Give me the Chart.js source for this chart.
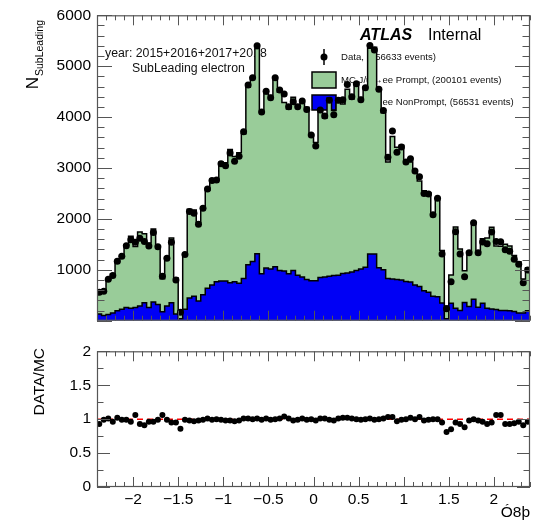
<!DOCTYPE html>
<html>
<head>
<meta charset="utf-8">
<script src="https://cdn.jsdelivr.net/npm/chart.js@4.4.1/dist/chart.umd.min.js"></script>
<style>
  html, body { margin: 0; padding: 0; background: #fff; }
  #wrap { position: relative; width: 546px; height: 521px; }
  #mainChart { position: absolute; left: 0; top: 0; }
  #ratioChart { position: absolute; left: 0; top: 336px; }
</style>
</head>
<body>
<div id="wrap">
  <canvas id="mainChart" width="546" height="336"></canvas>
  <canvas id="ratioChart" width="546" height="185"></canvas>
</div>
<script>
// binning: 96 bins of 0.05 in eta
const xMin = -2.4;
const xMax = 2.4;
const binWidth = 0.05;

// data counts per bin
const dataCounts = [
  559, 578, 812, 887, 1166, 1267, 1473, 1592, 1543, 1619,
  1556, 1467, 1732, 1454, 874, 1227, 1543, 799, 168, 1303,
  2147, 2110, 1896, 2211, 2589, 2753, 2766, 3082, 3043, 3295,
  3131, 3232, 3711, 4632, 4771, 5402, 4102, 4506, 4380, 4771,
  4531, 4456, 4203, 4304, 4203, 4317, 4150, 3650, 3430, 4140,
  4020, 4330, 4045, 4330, 4340, 4640, 4400, 4657, 4340, 4575,
  5408, 5316, 4545, 4128, 3210, 3725, 3307, 3414, 3118, 3181,
  2941, 2828, 2500, 2490, 2080, 2405, 1310, 235, 765, 1750,
  1310, 865, 1333, 1925, 1333, 1545, 1510, 1745, 1558, 1550,
  1395, 1363, 1205, 1110, 745, 997
];

// MC prompt + nonprompt (top of the green stack)
const mcTotal = [
  601, 584, 804, 924, 1143, 1280, 1488, 1658, 1456, 1741,
  1710, 1528, 1804, 1469, 825, 1239, 1624, 841, 195, 1316,
  2191, 2175, 1935, 2233, 2563, 2781, 2766, 3113, 3105, 3362,
  3228, 3298, 3674, 4586, 4771, 5349, 4143, 4461, 4424, 4771,
  4486, 4285, 4161, 4392, 4245, 4274, 4192, 3650, 3500, 4099,
  3980, 4374, 4128, 4287, 4255, 4549, 4356, 4657, 4384, 4575,
  5354, 5370, 4545, 4087, 3117, 3617, 3409, 3448, 3118, 3119,
  2941, 2746, 2551, 2515, 2080, 2405, 1379, 290, 900, 1842,
  1409, 983, 1360, 1925, 1360, 1609, 1624, 1837, 1470, 1462,
  1500, 1466, 1282, 1156, 819, 1039
];

// MC nonprompt only (blue)
const mcNonPrompt = [
  130, 100, 120, 150, 195, 227, 260, 245, 260, 290,
  353, 260, 366, 320, 177, 290, 353, 130, 40, 227,
  448, 480, 385, 510, 637, 700, 763, 782, 782, 744,
  766, 735, 830, 1100, 1163, 1314, 923, 1037, 1018, 1062,
  987, 975, 923, 987, 893, 861, 811, 786, 786, 849,
  861, 874, 887, 894, 925, 937, 956, 987, 1018, 1050,
  1310, 1310, 1040, 1000, 830, 820, 810, 800, 770, 760,
  700, 670, 590, 560, 480, 470, 350, 40, 344, 243,
  199, 357, 281, 420, 262, 344, 243, 230, 218, 199,
  199, 196, 180, 151, 151, 196
];

// DATA/MC ratio
const ratioValues = [
  0.93, 0.99, 1.01, 0.96, 1.02, 0.99, 0.99, 0.96, 1.06, 0.93,
  0.91, 0.96, 0.96, 0.99, 1.06, 0.99, 0.95, 0.95, 0.86, 0.99,
  0.98, 0.97, 0.98, 0.99, 1.01, 0.99, 1.00, 0.99, 0.98, 0.98,
  0.97, 0.98, 1.01, 1.01, 1.00, 1.01, 0.99, 1.01, 0.99, 1.00,
  1.01, 1.04, 1.01, 0.98, 0.99, 1.01, 0.99, 1.00, 0.98, 1.01,
  1.01, 0.99, 0.98, 1.01, 1.02, 1.02, 1.01, 1.00, 0.99, 1.00,
  1.01, 0.99, 1.00, 1.01, 1.03, 1.03, 0.97, 0.99, 1.00, 1.02,
  1.00, 1.03, 0.98, 0.99, 1.00, 1.00, 0.95, 0.81, 0.85, 0.95,
  0.93, 0.88, 0.98, 1.00, 0.98, 0.96, 0.93, 0.95, 1.06, 1.06,
  0.93, 0.93, 0.94, 0.96, 0.91, 0.96
];

const yTickValues = [1000, 2000, 3000, 4000, 5000, 6000];
const ratioTickValues = [0, 0.5, 1, 1.5, 2];
const xTickValues = [-2, -1.5, -1, -0.5, 0, 0.5, 1, 1.5, 2];

const FONT = "'Liberation Sans', Arial, Helvetica, sans-serif";

// bin centres
const binCenter = (i) => xMin + binWidth * (i + 0.5);
// stepped outline: one point on each left edge plus the closing right edge
const stepPoints = (vals) => {
  const pts = vals.map((v, i) => ({ x: xMin + binWidth * i, y: v }));
  pts.push({ x: xMax, y: vals[vals.length - 1] });
  return pts;
};

// frame and inward ROOT-style ticks
const rootFrame = {
  id: 'rootFrame',
  afterDatasetsDraw(chart, args, o) {
    const { ctx, chartArea: a, scales: { x, y } } = chart;
    ctx.save();
    ctx.strokeStyle = '#555';
    ctx.lineWidth = 1;
    ctx.beginPath();
    const nx = Math.round((x.max - x.min) / o.xMinor);
    for (let i = 0; i <= nx; i++) {
      const v = x.min + i * o.xMinor;
      const major = Math.abs(v / o.xMajor - Math.round(v / o.xMajor)) < 1e-6;
      const len = major ? o.xLen : o.xLen / 2;
      const px = Math.round(x.getPixelForValue(v)) + 0.5;
      ctx.moveTo(px, a.bottom); ctx.lineTo(px, a.bottom - len);
      ctx.moveTo(px, a.top); ctx.lineTo(px, a.top + len);
    }
    const ny = Math.round((y.max - y.min) / o.yMinor);
    for (let i = 0; i <= ny; i++) {
      const v = y.min + i * o.yMinor;
      const major = Math.abs(v / o.yMajor - Math.round(v / o.yMajor)) < 1e-6;
      const len = major ? o.yLen : o.yLen / 2;
      const py = Math.round(y.getPixelForValue(v)) + 0.5;
      ctx.moveTo(a.left, py); ctx.lineTo(a.left + len, py);
      ctx.moveTo(a.right, py); ctx.lineTo(a.right - len, py);
    }
    ctx.stroke();
    ctx.lineWidth = 1.2;
    ctx.strokeRect(a.left + 0.5, a.top + 0.5, a.width - 1, a.height - 1);
    ctx.restore();
  }
};

// labels + legend underneath the histograms
const mainTexts = {
  id: 'mainTexts',
  beforeDatasetsDraw(chart) {
    const ctx = chart.ctx;
    ctx.save();
    ctx.fillStyle = '#111';
    ctx.textBaseline = 'middle';
    ctx.font = '12.3px ' + FONT;
    ctx.fillText('year: 2015+2016+2017+2018', 105, 54);
    ctx.fillText('SubLeading electron', 132, 69);

    // legend
    ctx.font = '9.6px ' + FONT;
    ctx.strokeStyle = '#000';
    ctx.lineWidth = 1.5;
    ctx.beginPath();
    ctx.moveTo(324, 49); ctx.lineTo(324, 65);
    ctx.stroke();
    ctx.beginPath();
    ctx.arc(324, 57, 3.5, 0, Math.PI * 2);
    ctx.fillStyle = '#000';
    ctx.fill();
    ctx.fillStyle = '#99cc99';
    ctx.fillRect(312, 72, 24, 16);
    ctx.strokeRect(312, 72, 24, 16);
    ctx.fillStyle = '#0000f5';
    ctx.fillRect(312, 95, 24, 15);
    ctx.strokeRect(312, 95, 24, 15);
    ctx.fillStyle = '#111';
    ctx.fillText('Data, (256633 events)', 341, 57);
    ctx.fillText('MC J/\u03c8\u2192ee Prompt, (200101 events)', 341, 80);
    ctx.fillText('MC J/\u03c8\u2192ee NonPrompt, (56531 events)', 341, 102);
    ctx.restore();
  },
  afterDraw(chart) {
    const ctx = chart.ctx;
    ctx.save();
    ctx.fillStyle = '#000';
    ctx.textBaseline = 'alphabetic';
    ctx.font = 'italic bold 16px ' + FONT;
    ctx.fillText('ATLAS', 360, 40);
    ctx.font = '16px ' + FONT;
    ctx.fillText('Internal', 428, 40);

    // y title: N_SubLeading, rotated
    ctx.translate(38, 20);
    ctx.rotate(-Math.PI / 2);
    ctx.textAlign = 'right';
    ctx.font = '10.5px ' + FONT;
    ctx.fillText('SubLeading', 0, 5);
    const w = ctx.measureText('SubLeading').width;
    ctx.font = '17px ' + FONT;
    ctx.fillText('N', -w - 1, 0);
    ctx.restore();
  }
};

const ratioTexts = {
  id: 'ratioTexts',
  afterDraw(chart) {
    const ctx = chart.ctx;
    ctx.save();
    ctx.fillStyle = '#000';
    ctx.font = '15.5px ' + FONT;
    ctx.textAlign = 'right';
    ctx.fillText('\u00d38\u00fe', 530, 181);
    ctx.translate(44, 12);
    ctx.rotate(-Math.PI / 2);
    ctx.fillText('DATA/MC', 0, 0);
    ctx.restore();
  }
};

const tickFont = { family: FONT, size: 15.5 };
const plainLabel = (v) => String(v);

new Chart(document.getElementById('mainChart'), {
  type: 'line',
  data: {
    datasets: [
      {
        label: 'Data',
        data: dataCounts.map((v, i) => ({ x: binCenter(i), y: v })),
        showLine: false,
        pointRadius: 3.5,
        pointBackgroundColor: '#000',
        pointBorderWidth: 0,
        order: 0
      },
      {
        label: 'NonPrompt',
        data: stepPoints(mcNonPrompt),
        stepped: 'before',
        fill: 'origin',
        backgroundColor: '#0000f5',
        borderColor: '#000',
        borderWidth: 1.5,
        pointRadius: 0,
        order: 1
      },
      {
        label: 'Prompt',
        data: stepPoints(mcTotal),
        stepped: 'before',
        fill: 'origin',
        backgroundColor: '#99cc99',
        borderColor: '#000',
        borderWidth: 1.5,
        pointRadius: 0,
        order: 2
      }
    ]
  },
  options: {
    responsive: false,
    animation: false,
    events: [],
    layout: { padding: { top: 15, right: 16, bottom: 4, left: 0 } },
    plugins: {
      legend: { display: false },
      tooltip: { enabled: false },
      rootFrame: { xMajor: 0.5, xMinor: 0.1, xLen: 10, yMajor: 1000, yMinor: 200, yLen: 15 }
    },
    scales: {
      x: { type: 'linear', min: xMin, max: xMax, display: false },
      y: {
        min: 0, max: 6000,
        grid: { display: false, drawTicks: false },
        border: { display: false },
        ticks: { font: tickFont, color: '#000', padding: 6, callback: plainLabel },
        afterBuildTicks: (s) => { s.ticks = yTickValues.map(v => ({ value: v })); },
        afterFit: (s) => { s.width = 97; }
      }
    }
  },
  plugins: [mainTexts, rootFrame]
});

new Chart(document.getElementById('ratioChart'), {
  type: 'line',
  data: {
    datasets: [
      {
        label: 'unity',
        data: [{ x: xMin, y: 1 }, { x: xMax, y: 1 }],
        borderColor: '#ff0000',
        borderWidth: 1.5,
        borderDash: [6, 4],
        pointRadius: 0,
        order: 1
      },
      {
        label: 'DATA/MC',
        data: ratioValues.map((v, i) => ({ x: binCenter(i), y: v })),
        showLine: false,
        pointRadius: 3,
        pointBackgroundColor: '#000',
        pointBorderWidth: 0,
        order: 0
      }
    ]
  },
  options: {
    responsive: false,
    animation: false,
    events: [],
    layout: { padding: { top: 12, right: 16, bottom: 0, left: 0 } },
    plugins: {
      legend: { display: false },
      tooltip: { enabled: false },
      rootFrame: { xMajor: 0.5, xMinor: 0.1, xLen: 10, yMajor: 0.5, yMinor: 0.25, yLen: 13 }
    },
    scales: {
      x: {
        type: 'linear', min: xMin, max: xMax,
        grid: { display: false, drawTicks: false },
        border: { display: false },
        ticks: {
          font: tickFont, color: '#000', padding: 3, maxRotation: 0,
          callback: (v) => (v < 0 ? '\u2212' + Math.abs(v) : String(v))
        },
        afterBuildTicks: (s) => { s.ticks = xTickValues.map(v => ({ value: v })); },
        afterFit: (s) => { s.height = 34; }
      },
      y: {
        min: 0, max: 2,
        grid: { display: false, drawTicks: false },
        border: { display: false },
        ticks: { font: tickFont, color: '#000', padding: 6, callback: plainLabel },
        afterBuildTicks: (s) => { s.ticks = ratioTickValues.map(v => ({ value: v })); },
        afterFit: (s) => { s.width = 97; }
      }
    }
  },
  plugins: [ratioTexts, rootFrame]
});
</script>
</body>
</html>
